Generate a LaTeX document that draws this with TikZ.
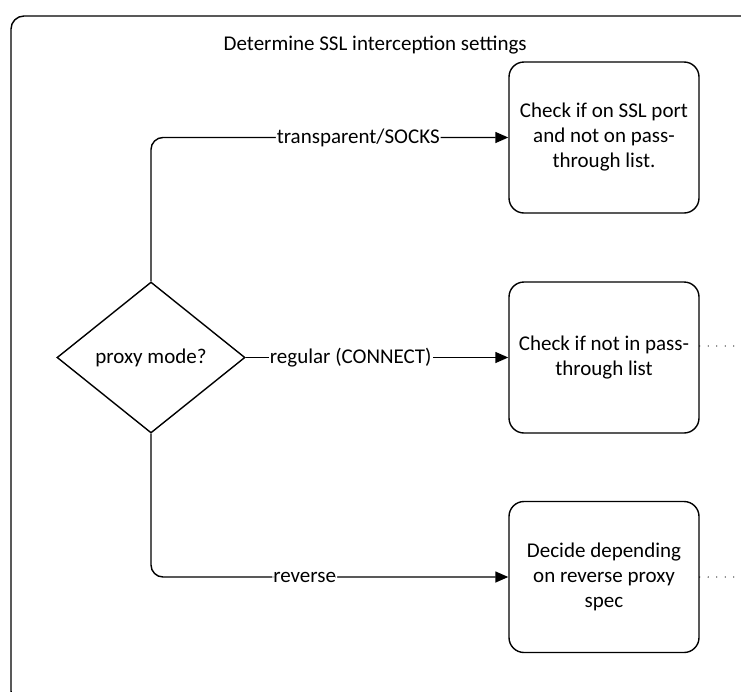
\documentclass[tikz,border=0pt]{standalone}
\usepackage{fontspec}
\setmainfont{Carlito}
\usetikzlibrary{shapes.geometric,arrows.meta}
\begin{document}
\begin{tikzpicture}[x=1pt,y=-1pt,line width=1.4pt,
  font=\fontsize{21pt}{25pt}\selectfont,
  box/.style={draw,rounded corners=15pt,minimum width=190pt,minimum height=151pt,align=center,inner sep=0pt},
  dec/.style={draw,diamond,aspect=1.245,minimum width=188pt,minimum height=151pt,inner sep=0pt},
  lab/.style={fill=white,inner sep=1pt},
  arr/.style={-{Triangle[length=13pt,width=11pt]}},
  dots/.style={line cap=round,dash pattern=on 0pt off 8.5pt}]
\useasboundingbox (0,0) rectangle (741,691);
\clip (0,0) rectangle (741,691);
\draw[rounded corners=13pt] (11,16) rectangle (754,704);
\node[anchor=base west,inner sep=0pt] (title) at (223,50) {Determine SSL interception settings};
\node[dec] (d) at (151,357.5) {proxy mode?};
\node[box] (b1) at (604,137.5) {Check if on SSL port\\and not on pass-\\through list.};
\node[box] (b2) at (604,357.5) {Check if not in pass-\\through list};
\node[box] (b3) at (604,577) {Decide depending\\on reverse proxy\\spec};
\draw[arr,rounded corners=12pt] (d.north) |- node[lab,pos=0.79]{transparent/SOCKS} (b1.west);
\draw[arr] (d.east) -- node[lab,pos=0.40]{regular (CONNECT)} (b2.west);
\draw[arr,rounded corners=12pt] (d.south) |- node[lab,pos=0.715]{reverse} (b3.west);
\coordinate (e2) at (745,346);
\coordinate (e3) at (745,577);
\draw[dots] (b2.east |- e2) -- (e2);
\draw[dots] (b3.east |- e3) -- (e3);
\end{tikzpicture}
\end{document}
